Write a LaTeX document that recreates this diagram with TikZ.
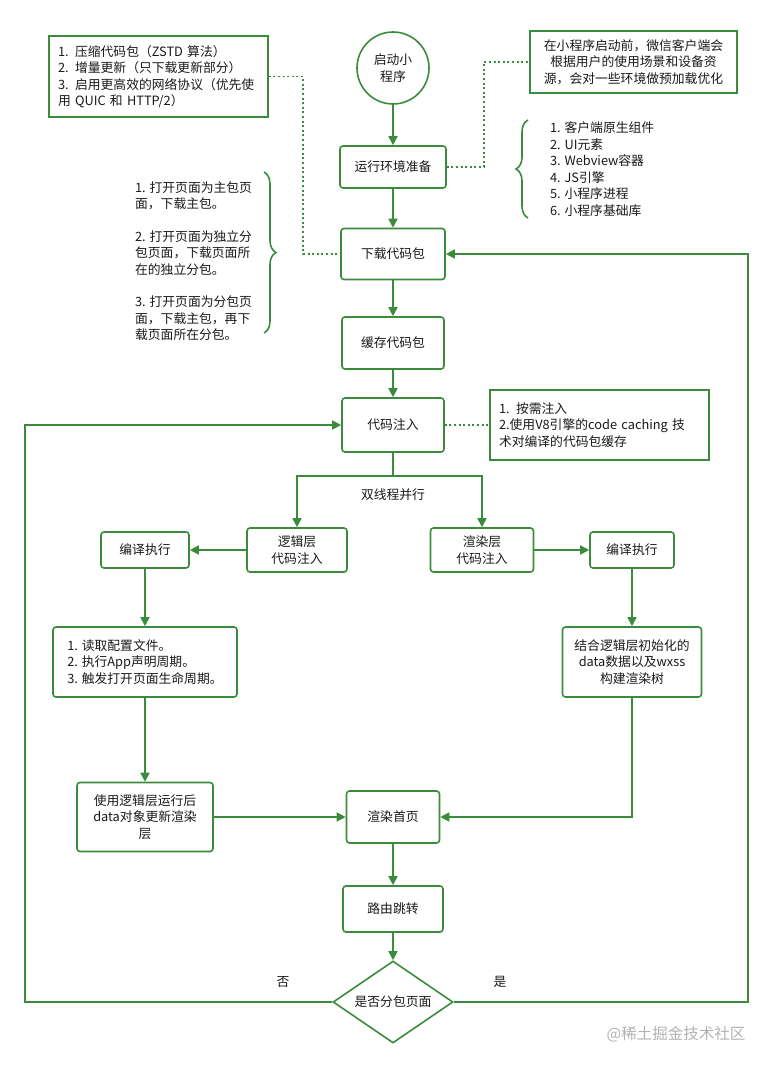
\documentclass[tikz,border=0pt]{standalone}
\usepackage{fontspec}
\setmainfont{Noto Sans CJK SC}
\usetikzlibrary{arrows.meta,shapes.geometric,decorations.pathreplacing}
\definecolor{flowgreen}{RGB}{58,140,60}

\begin{document}
\begin{tikzpicture}[x=1pt,y=-1pt,line width=1.6pt,
	every node/.style={font=\fontsize{12.8}{16.5}\selectfont,text=black!90},
	stepbox/.style={draw=flowgreen,rounded corners=3pt,align=center,inner sep=2pt},
	notebox/.style={draw=flowgreen,inner sep=8pt},
	flow/.style={draw=flowgreen,-{Triangle[length=9pt,width=9pt]}},
	wire/.style={draw=flowgreen},
	notelink/.style={draw=flowgreen,line width=1.9pt,dash pattern=on 2pt off 2.6pt}]
	\useasboundingbox (0,0) rectangle (773,1068);
	% main line
	\node[circle,draw=flowgreen,minimum size=72pt,inner sep=0pt,align=center] (start) at (393,68) {启动小\\程序};
	\node[stepbox,minimum width=106pt,minimum height=42pt] (prep) at (393,167) {运行环境准备};
	\node[stepbox,minimum width=104pt,minimum height=51pt] (download) at (393,254) {下载代码包};
	\node[stepbox,minimum width=102pt,minimum height=52pt] (cache) at (393,343) {缓存代码包};
	\node[stepbox,minimum width=102pt,minimum height=54pt] (inject) at (393,425) {代码注入};
	% two threads
	\node[stepbox,minimum width=100pt,minimum height=44pt] (logic) at (297,550) {逻辑层\\代码注入};
	\node[stepbox,minimum width=103pt,minimum height=44pt] (render) at (482,550) {渲染层\\代码注入};
	\node[stepbox,minimum width=88pt,minimum height=36pt] (compileL) at (145,550) {编译执行};
	\node[stepbox,minimum width=84pt,minimum height=36pt] (compileR) at (632,550) {编译执行};
	\node[stepbox,minimum width=184pt,minimum height=70pt,align=left] (readcfg) at (145,662) {1. 读取配置文件。\\2. 执行App声明周期。\\3. 触发打开页面生命周期。};
	\node[stepbox,minimum width=139pt,minimum height=70pt] (buildtree) at (632,662) {结合逻辑层初始化的\\data数据以及wxss\\构建渲染树};
	\node[stepbox,minimum width=136pt,minimum height=69pt] (updatedata) at (145,817) {使用逻辑层运行后\\data对象更新渲染\\层};
	\node[stepbox,minimum width=93pt,minimum height=52pt] (firstpage) at (393,817) {渲染首页};
	\node[stepbox,minimum width=100pt,minimum height=46pt] (route) at (393,909) {路由跳转};
	\node[diamond,draw=flowgreen,aspect=1.46,minimum width=120pt,minimum height=82pt,inner sep=0pt] (decide) at (393,1002) {是否分包页面};
	% notes
	\node[notebox,minimum width=219pt,minimum height=81pt,text width=201pt,align=left] (noteNet) at (158.5,76.5) {1. 压缩代码包（ZSTD 算法）\\2. 增量更新（只下载更新部分）\\3. 启用更高效的网络协议（优先使\\用 QUIC 和 HTTP/2）};
	\node[notebox,minimum width=207pt,minimum height=62pt,align=center] (notePre) at (633.5,62) {在小程序启动前，微信客户端会\\根据用户的使用场景和设备资\\源，会对一些环境做预加载优化};
	\node[notebox,minimum width=219pt,minimum height=70pt,text width=201pt,align=left] (noteCache) at (599.5,425) {1. 按需注入\\2.使用V8引擎的code caching 技\\术对编译的代码包缓存};
	\node[anchor=west,align=left] (envlist) at (546,169) {1. 客户端原生组件\\2. UI元素\\3. Webview容器\\4. JS引擎\\5. 小程序进程\\6. 小程序基础库};
	\node[anchor=west,align=left] (pkglist) at (131,261) {1. 打开页面为主包页\\面，下载主包。\\[16pt]2. 打开页面为独立分\\包页面，下载页面所\\在的独立分包。\\[16pt]3. 打开页面为分包页\\面，下载主包，再下\\载页面所在分包。};
	% braces
	\draw[flowgreen,decorate,decoration={brace,amplitude=12pt}] (528,218) -- (528,120);
	\draw[flowgreen,decorate,decoration={brace,amplitude=12pt}] (264,172) -- (264,333);
	% labels
	\node (thread) at (393,495) {双线程并行};
	\node (no) at (283,982) {否};
	\node (yes) at (500,982) {是};
	\node[text=black!30,font=\fontsize{15.5}{18}\selectfont] (mark) at (676,1034) {@稀土掘金技术社区};
	% coordinates
	\coordinate (split) at (393,476);
	\coordinate (dlTap) at (303,254);
	\coordinate (preTap) at (484,62);
	\coordinate (loopL) at (25,1002);
	\coordinate (loopR) at (748,1002);
	% arrows
	\draw[flow] (start) -- (prep);
	\draw[flow] (prep) -- (download);
	\draw[flow] (download) -- (cache);
	\draw[flow] (cache) -- (inject);
	\draw[wire] (inject) -- (split);
	\draw[flow] (split) -| (logic);
	\draw[flow] (split) -| (render);
	\draw[flow] (logic) -- (compileL);
	\draw[flow] (render) -- (compileR);
	\draw[flow] (compileL) -- (readcfg);
	\draw[flow] (compileR) -- (buildtree);
	\draw[flow] (readcfg) -- (updatedata);
	\draw[flow] (updatedata) -- (firstpage);
	\draw[flow] (buildtree) |- (firstpage);
	\draw[flow] (firstpage) -- (route);
	\draw[flow] (route) -- (decide);
	\draw[flow] (decide.west) -- (loopL) |- (inject);
	\draw[flow] (decide.east) -- (loopR) |- (download);
	% dotted links
	\draw[notelink] (noteNet.east) -| (dlTap) -- (download.west);
	\draw[notelink] (prep.east) -| (preTap) -- (notePre.west);
	\draw[notelink] (inject) -- (noteCache);
\end{tikzpicture}
\end{document}
